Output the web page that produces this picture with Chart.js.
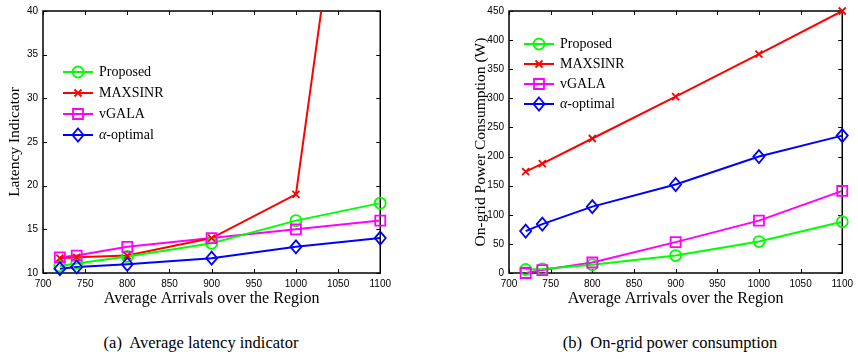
<!DOCTYPE html>
<html>
<head>
<meta charset="utf-8">
<script src="https://cdn.jsdelivr.net/npm/chart.js@4.4.1/dist/chart.umd.min.js"></script>
<style>
  body { margin: 0; width: 858px; height: 359px; background: #fff; position: relative; overflow: hidden; }
  .box { position: absolute; top: 0; height: 308px; }
  #boxA { left: 0; width: 396px; }
  #boxB { left: 440px; width: 418px; }
  .cap { position: absolute; top: 333px; font: 16.5px "Liberation Serif", serif; color: #000; white-space: nowrap; transform: translateX(-50%); }
</style>
</head>
<body>
<div class="box" id="boxA"><canvas id="latencyChart"></canvas></div>
<div class="box" id="boxB"><canvas id="powerChart"></canvas></div>
<div class="cap" style="left:201px">(a)&nbsp; Average latency indicator</div>
<div class="cap" style="left:670px">(b)&nbsp; On-grid power consumption</div>
<script>
const arrivals = [720, 740, 800, 900, 1000, 1100];
const seriesNames = ["Proposed", "MAXSINR", "vGALA", "α-optimal"];

// (a) latency indicator
const latProposed = [10.8, 11.1, 11.9, 13.4, 16.0, 18.0];
const latMaxsinr = [11.7, 11.8, 12.0, 14.0, 19.0, 89.0];
const latVgala = [11.8, 12.0, 13.0, 14.0, 15.0, 16.0];
const latAlpha = [10.5, 10.7, 11.0, 11.7, 13.0, 14.0];

// (b) on-grid power (W)
const powProposed = [6, 7, 14, 30, 54, 88];
const powMaxsinr = [174, 188, 231, 303, 376, 450];
const powVgala = [0, 5, 18, 53, 90, 141];
const powAlpha = [72, 84, 114, 152, 200, 236];

const styles = [
    { color: "#00ff00", marker: "circle", r: 5.5 },
    { color: "#ff0000", marker: "cross", r: 3.5 },
    { color: "#ff00ff", marker: "square", r: 5 },
    { color: "#0000ff", marker: "diamond", r: 6.5 },
];

function drawMarker(ctx, kind, x, y, r) {
    ctx.beginPath();
    if (kind === "circle") {
        ctx.arc(x, y, r, 0, Math.PI * 2);
    } else if (kind === "square") {
        ctx.rect(x - r, y - r, 2 * r, 2 * r);
    } else if (kind === "diamond") {
        ctx.moveTo(x, y - r); ctx.lineTo(x + r * 0.85, y); ctx.lineTo(x, y + r); ctx.lineTo(x - r * 0.85, y); ctx.closePath();
    } else {
        ctx.moveTo(x - r, y - r); ctx.lineTo(x + r, y + r);
        ctx.moveTo(x + r, y - r); ctx.lineTo(x - r, y + r);
    }
    ctx.stroke();
}

function makeDatasets(series) {
    return series.map((vals, i) => ({
        label: seriesNames[i],
        data: arrivals.map((a, k) => ({ x: a, y: vals[k] })),
        borderColor: styles[i].color,
        borderWidth: 2,
        pointRadius: 0,
        fill: false,
        tension: 0,
    }));
}

// marker plugin: hollow MATLAB-like markers
const markers = {
    id: "markers",
    afterDatasetsDraw(chart) {
        const { ctx } = chart;
        ctx.save();
        chart.data.datasets.forEach((ds, i) => {
            const meta = chart.getDatasetMeta(i);
            ctx.strokeStyle = styles[i].color;
            ctx.lineWidth = 1.8;
            meta.data.forEach((pt, k) => {
                if (ds.data[k].y > chart.scales.y.max) return;
                drawMarker(ctx, styles[i].marker, pt.x, pt.y, styles[i].r);
            });
        });
        ctx.restore();
    }
};

// box with inward ticks
const boxTicks = {
    id: "boxTicks",
    beforeDatasetsDraw(chart) {
        const { ctx, chartArea: a, scales: { x, y } } = chart;
        ctx.save();
        ctx.strokeStyle = "#000";
        ctx.lineWidth = 1;
        ctx.beginPath();
        x.ticks.forEach(t => {
            const px = Math.round(x.getPixelForValue(t.value)) + 0.5;
            ctx.moveTo(px, a.bottom); ctx.lineTo(px, a.bottom - 4);
            ctx.moveTo(px, a.top); ctx.lineTo(px, a.top + 4);
        });
        y.ticks.forEach(t => {
            const py = Math.round(y.getPixelForValue(t.value)) + 0.5;
            ctx.moveTo(a.left, py); ctx.lineTo(a.left + 4, py);
            ctx.moveTo(a.right, py); ctx.lineTo(a.right - 4, py);
        });
        ctx.stroke();
        ctx.lineWidth = 1.5;
        ctx.strokeRect(a.left, a.top, a.right - a.left, a.bottom - a.top);
        ctx.restore();
    }
};

// legend drawn inside the axes, line + marker
const lineLegend = {
    id: "lineLegend",
    afterDraw(chart, args, opts) {
        const { ctx, chartArea: a } = chart;
        ctx.save();
        chart.data.datasets.forEach((ds, i) => {
            const y = a.top + opts.top + i * opts.gap;
            const x0 = a.left + opts.left;
            ctx.strokeStyle = styles[i].color;
            ctx.lineWidth = 2;
            ctx.beginPath();
            ctx.moveTo(x0, y); ctx.lineTo(x0 + 30, y);
            ctx.stroke();
            ctx.lineWidth = 1.8;
            drawMarker(ctx, styles[i].marker, x0 + 15, y, styles[i].r);
            ctx.fillStyle = "#000";
            ctx.textBaseline = "middle";
            let tx = x0 + 36;
            let label = ds.label;
            if (label.startsWith("α")) {
                ctx.font = "italic 14px 'Liberation Serif'";
                ctx.fillText("α", tx, y);
                tx += ctx.measureText("α").width;
                label = label.slice(1);
            }
            ctx.font = "14px 'Liberation Serif'";
            ctx.fillText(label, tx, y);
        });
        ctx.restore();
    }
};

function makeChart(id, series, yMin, yMax, yStep, yTitle, yWidth, titlePad, padRight, legendPos) {
    return new Chart(document.getElementById(id), {
        type: "line",
        data: { datasets: makeDatasets(series) },
        plugins: [boxTicks, markers, lineLegend],
        options: {
            responsive: true,
            maintainAspectRatio: false,
            animation: false,
            layout: { padding: { top: 7, right: padRight, left: 0, bottom: 0 } },
            plugins: {
                legend: { display: false },
                tooltip: { enabled: false },
                lineLegend: legendPos,
            },
            scales: {
                x: {
                    type: "linear",
                    min: 700, max: 1100,
                    grid: { display: false, drawTicks: false },
                    border: { display: false },
                    ticks: { stepSize: 50, padding: 5, color: "#000", maxRotation: 0, callback: v => String(v), font: { family: "Liberation Sans", size: 10 } },
                    title: { display: true, text: "Average Arrivals over the Region", color: "#000", padding: { top: 0, bottom: 0 }, font: { family: "Liberation Serif", size: 16 } },
                    afterFit: s => { s.height = 35; },
                },
                y: {
                    min: yMin, max: yMax,
                    grid: { display: false, drawTicks: false },
                    border: { display: false },
                    ticks: { stepSize: yStep, padding: 5, color: "#000", callback: v => String(v), font: { family: "Liberation Sans", size: 10 } },
                    title: { display: true, text: yTitle, color: "#000", padding: { top: titlePad, bottom: 0 }, font: { family: "Liberation Serif", size: 15.5 } },
                    afterFit: s => { s.width = yWidth; },
                },
            },
        },
    });
}

makeChart("latencyChart", [latProposed, latMaxsinr, latVgala, latAlpha], 10, 40, 5,
    "Latency Indicator", 43, 6, 15, { left: 20, top: 61, gap: 21 });
makeChart("powerChart", [powProposed, powMaxsinr, powVgala, powAlpha], 0, 450, 50,
    "On-grid Power Consumption (W)", 69, 32, 12, { left: 15, top: 33, gap: 20 });
</script>
</body>
</html>
